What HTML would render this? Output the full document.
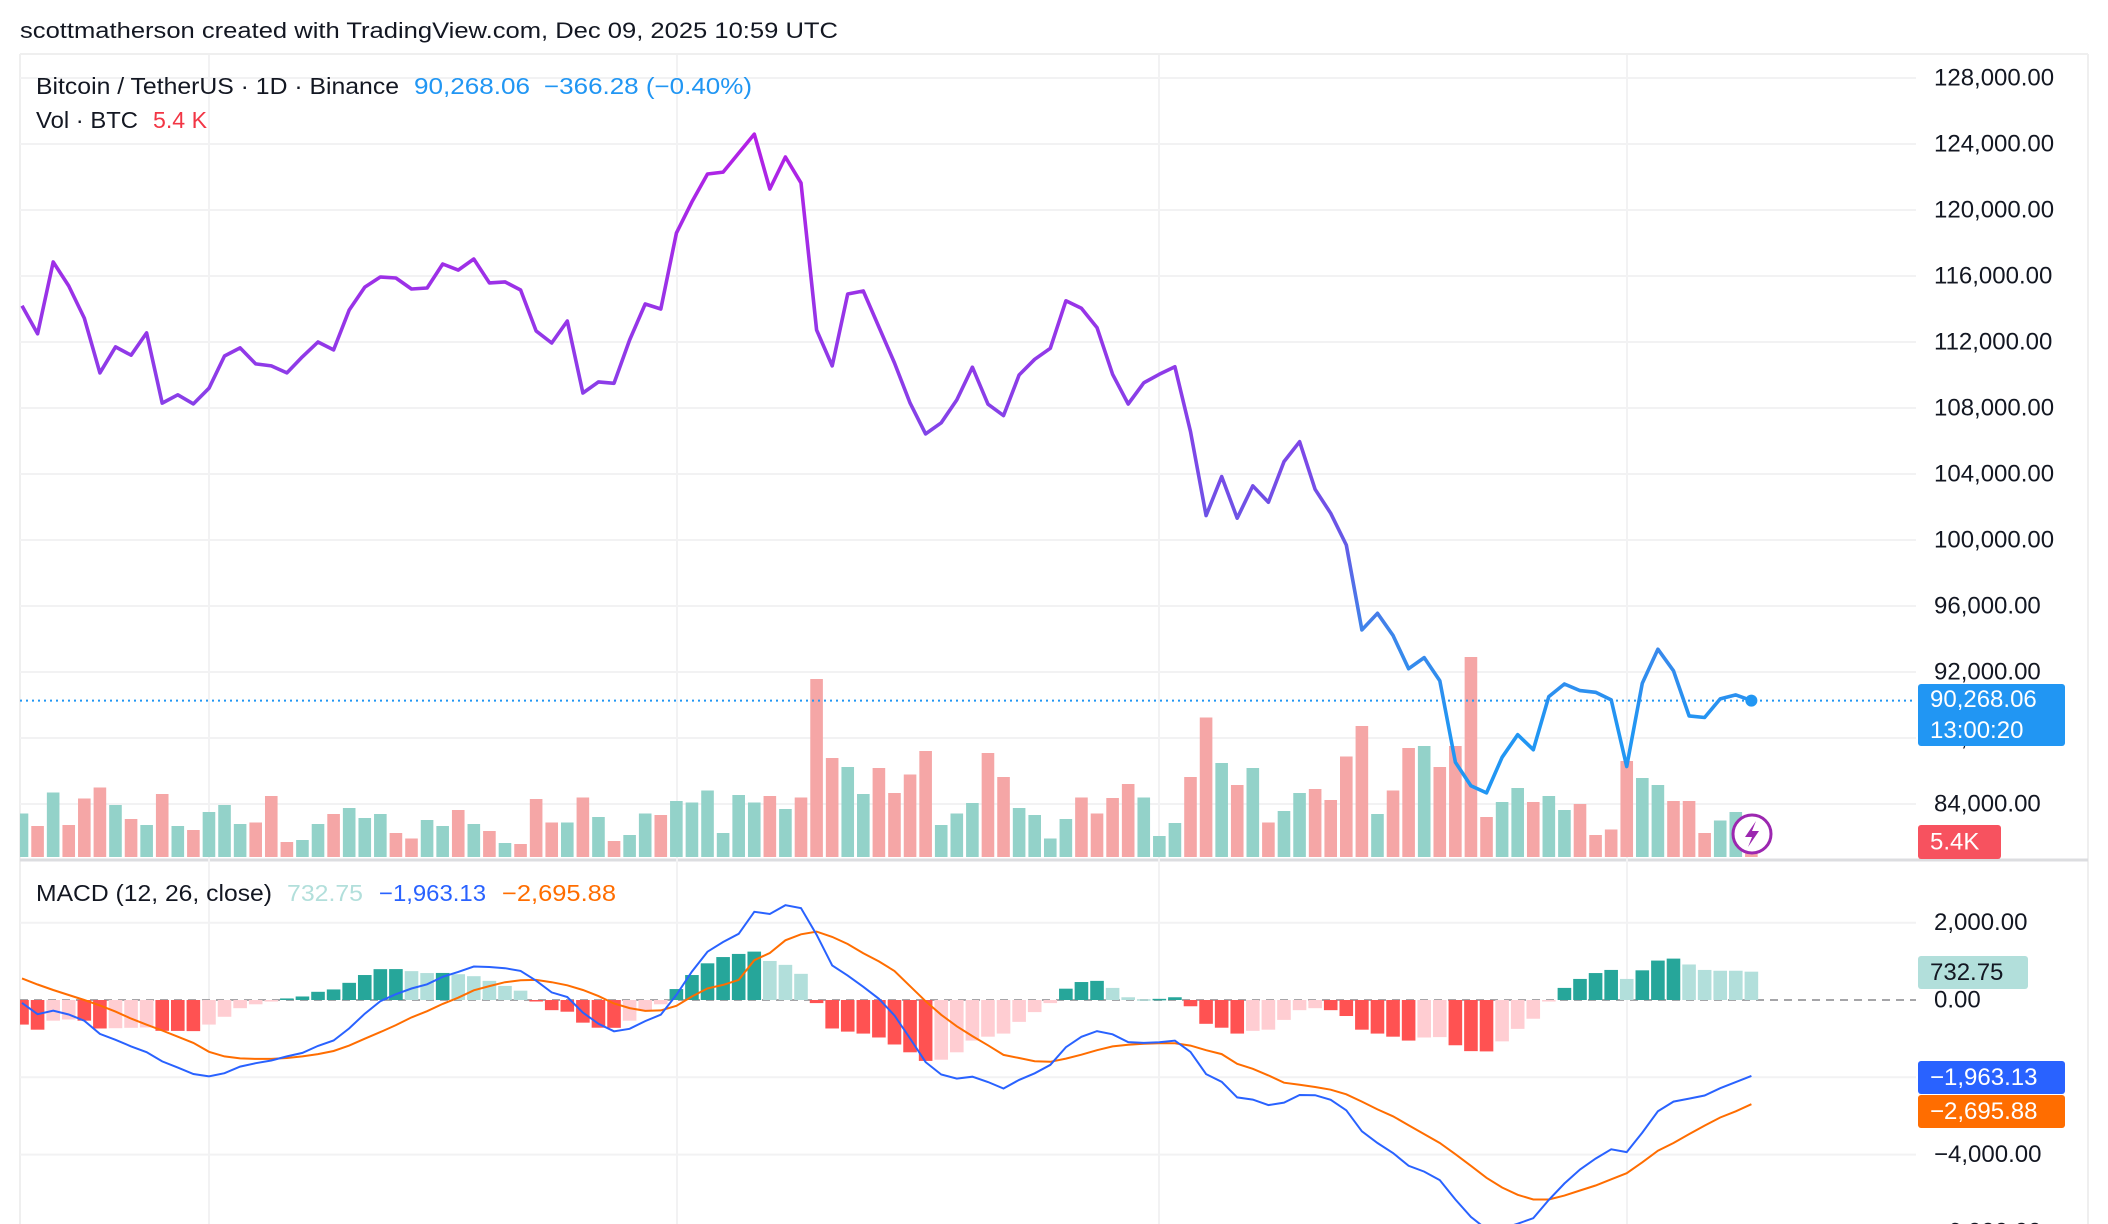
<!DOCTYPE html>
<html><head><meta charset="utf-8"><style>
html,body{margin:0;padding:0;background:#fff;}
svg{display:block;font-family:"Liberation Sans",sans-serif;}
</style></head><body>
<svg id="chart" xmlns="http://www.w3.org/2000/svg" width="2108" height="1224" viewBox="0 0 2108 1224">
<defs>
<linearGradient id="pg" gradientUnits="userSpaceOnUse" x1="0" y1="130" x2="0" y2="795">
<stop offset="0" stop-color="#b41fe6"/><stop offset="0.4" stop-color="#8a3ee8"/><stop offset="0.6" stop-color="#6a55e6"/><stop offset="0.76" stop-color="#3d86ea"/><stop offset="0.9" stop-color="#2196f3"/></linearGradient>
<clipPath id="macdClip"><rect x="20" y="862" width="1896" height="362"/></clipPath>
<clipPath id="priceClip"><rect x="20" y="55" width="1896" height="803"/></clipPath>
</defs>
<rect width="2108" height="1224" fill="#fff"/>
<text x="20" y="38" font-size="22" fill="#131722" textLength="818" lengthAdjust="spacingAndGlyphs">scottmatherson created with TradingView.com, Dec 09, 2025 10:59 UTC</text>
<g id="grid"></g>
<g id="vol" clip-path="url(#priceClip)"></g>
<g id="price" clip-path="url(#priceClip)"></g>
<g id="macd" clip-path="url(#macdClip)"></g>
<g id="axis"></g>
<g font-size="23">
<text x="36" y="94" fill="#131722" textLength="363" lengthAdjust="spacingAndGlyphs">Bitcoin / TetherUS · 1D · Binance</text>
<text x="414" y="94" fill="#2196f3" textLength="116" lengthAdjust="spacingAndGlyphs">90,268.06</text>
<text x="544" y="94" fill="#2196f3" textLength="208" lengthAdjust="spacingAndGlyphs">−366.28 (−0.40%)</text>
<text x="36" y="128" fill="#131722" textLength="102" lengthAdjust="spacingAndGlyphs">Vol · BTC</text>
<text x="153" y="128" fill="#f23645" textLength="54" lengthAdjust="spacingAndGlyphs">5.4 K</text>
<text x="36" y="901" fill="#131722" textLength="236" lengthAdjust="spacingAndGlyphs">MACD (12, 26, close)</text>
<text x="287" y="901" fill="#b2dfdb" textLength="76" lengthAdjust="spacingAndGlyphs">732.75</text>
<text x="379" y="901" fill="#2962ff" textLength="107" lengthAdjust="spacingAndGlyphs">−1,963.13</text>
<text x="502" y="901" fill="#ff6d00" textLength="114" lengthAdjust="spacingAndGlyphs">−2,695.88</text>
</g>
</svg>
<script>
const closes=[114200,112500,116850,115400,113450,110130,111700,111200,112550,108300,108800,108250,109200,111150,111640,110670,110550,110130,111100,112000,111520,113940,115330,115940,115880,115210,115270,116730,116360,117030,115580,115640,115150,112670,111940,113270,108910,109580,109500,112120,114300,114000,118600,120490,122180,122300,123450,124600,121270,123210,121640,112730,110550,114910,115090,112910,110730,108300,106430,107100,108490,110470,108230,107540,110000,110950,111620,114500,114040,112870,110040,108240,109530,110040,110500,106570,101480,103840,101320,103280,102290,104750,105960,103070,101620,99700,94550,95560,94220,92200,92870,91470,86530,85110,84670,86830,88200,87290,90510,91270,90870,90770,90310,86270,91320,93380,92070,89340,89240,90370,90610,90268];
const volumes=[8.7,6.2,12.9,6.4,11.7,13.9,10.4,7.6,6.4,12.6,6.2,5.4,9.0,10.4,6.6,6.9,12.2,3.0,3.4,6.6,8.6,9.8,7.8,8.6,4.8,3.7,7.4,6.2,9.4,6.6,5.2,2.8,2.6,11.6,6.9,6.9,11.9,8.0,3.2,4.4,8.7,8.4,11.2,10.9,13.3,4.8,12.4,10.9,12.2,9.6,11.9,35.6,19.8,18.0,12.6,17.8,12.8,16.5,21.2,6.4,8.7,10.8,20.8,16.0,9.8,8.4,3.7,7.6,11.9,8.7,11.8,14.6,11.9,4.2,6.8,16.0,27.9,18.8,14.4,17.8,6.9,9.2,12.8,13.6,11.4,20.1,26.2,8.6,13.3,21.8,22.2,18.0,22.2,40.0,8.0,11.0,13.8,11.0,12.2,9.4,10.6,4.4,5.5,19.2,15.8,14.4,11.2,11.2,4.8,7.3,9.0,5.4];
const hist=[-636,-768,-535,-505,-535,-737,-730,-720,-710,-798,-800,-805,-636,-434,-212,-111,-40,40,91,212,273,444,646,798,800,747,697,700,667,616,495,364,242,-20,-263,-303,-586,-717,-720,-535,-263,-111,283,646,949,1111,1192,1252,1010,909,677,-80,-737,-818,-869,-970,-1151,-1353,-1576,-1545,-1353,-1050,-949,-869,-566,-313,-80,293,465,495,313,71,20,30,71,-162,-616,-717,-869,-798,-768,-515,-263,-212,-263,-414,-768,-869,-949,-1050,-970,-960,-1171,-1323,-1330,-1070,-747,-485,-10,313,545,697,778,545,768,1020,1071,919,778,757,757,733];
const signal=[560,400,260,130,0,-140,-300,-480,-640,-790,-950,-1110,-1340,-1460,-1510,-1525,-1525,-1500,-1460,-1400,-1320,-1180,-1000,-830,-650,-450,-290,-100,60,250,360,460,510,520,460,380,260,100,-90,-210,-283,-270,-150,90,300,390,520,1030,1216,1545,1700,1770,1633,1450,1210,1000,750,358,-30,-382,-680,-935,-1172,-1420,-1500,-1584,-1600,-1515,-1416,-1300,-1200,-1160,-1130,-1121,-1121,-1180,-1300,-1400,-1650,-1780,-1950,-2140,-2195,-2250,-2320,-2440,-2630,-2830,-3010,-3240,-3470,-3700,-3990,-4290,-4600,-4850,-5040,-5161,-5161,-5060,-4930,-4800,-4640,-4480,-4200,-3900,-3700,-3470,-3250,-3040,-2880,-2696];
const priceTicks=[128000,124000,120000,116000,112000,108000,104000,100000,96000,92000,88000,84000];
const macdTicks=[2000,0,-2000,-4000,-6000];
const NS="http://www.w3.org/2000/svg";
const X0=22,STEP=15.58,PL=20,PR=1916;
function xs(i){return X0+i*STEP;}
function yp(p){return 78+(128000-p)/4000*66;}
function ym(v){return 1000-v/2000*77.3;}
function yv(v){return 857-v*5;}
function mk(tag,attrs,parent){const e=document.createElementNS(NS,tag);for(const k in attrs)e.setAttribute(k,attrs[k]);parent.appendChild(e);return e;}
function fmt(v){const s=Math.abs(v).toLocaleString('en-US',{minimumFractionDigits:2,maximumFractionDigits:2});return (v<0?'−':'')+s;}
const grid=document.getElementById('grid'),vol=document.getElementById('vol'),price=document.getElementById('price'),macd=document.getElementById('macd'),axis=document.getElementById('axis');
let f=mk('line',{x1:PL,y1:54,x2:2088,y2:54,stroke:'#efefef','stroke-width':2},grid);

f=mk('line',{x1:PL,y1:54,x2:PL,y2:1224,stroke:'#efefef','stroke-width':2},grid);

f=mk('line',{x1:2088,y1:54,x2:2088,y2:1224,stroke:'#efefef','stroke-width':2},grid);

f=mk('line',{x1:PL,y1:860,x2:2088,y2:860,stroke:'#dcdde0','stroke-width':3},grid);

[209,677,1159,1627].forEach(x=>{const l=mk('line',{x1:x,y1:55,x2:x,y2:1224,stroke:'#f2f2f3','stroke-width':2},grid);

});
priceTicks.forEach(t=>{const l=mk('line',{x1:PL,y1:yp(t),x2:PR,y2:yp(t),stroke:'#f2f2f3','stroke-width':2},grid);


const tx=mk('text',{x:1934,y:yp(t),'dominant-baseline':'central','font-size':24,fill:'#131722'},axis);tx.textContent=fmt(t);

});
macdTicks.forEach(t=>{if(t!==0){const l=mk('line',{x1:PL,y1:ym(t),x2:PR,y2:ym(t),stroke:'#f2f2f3','stroke-width':2},grid);

}
if(t!==-2000){const tx=mk('text',{x:1934,y:ym(t),'dominant-baseline':'central','font-size':24,fill:'#131722'},axis);tx.textContent=fmt(t);

}});
volumes.forEach((v,i)=>{const up=i===0||closes[i]>=closes[i-1];
const r=mk('rect',{x:xs(i)-6.3,y:yv(v),width:12.6,height:857-yv(v),fill:up?'#93d2c9':'#f5a6a6'},vol);

});
let dl=mk('line',{x1:PL,y1:yp(closes[closes.length-1]),x2:PR,y2:yp(closes[closes.length-1]),stroke:'#2196f3','stroke-width':2,'stroke-dasharray':'2 4'},price);

let d=closes.map((p,i)=>(i?'L':'M')+xs(i).toFixed(1)+' '+yp(p).toFixed(1)).join(' ');
let pl=mk('path',{d:d,fill:'none',stroke:'url(#pg)','stroke-width':3.6,'stroke-linejoin':'round'},price);

const li=closes.length-1;
let dot=mk('circle',{cx:xs(li),cy:yp(closes[li]),r:6,fill:'#2196f3'},price);

let z=mk('line',{x1:PL,y1:ym(0),x2:PR,y2:ym(0),stroke:'#a5a5a8','stroke-width':2,'stroke-dasharray':'8 6'},macd);

hist.forEach((h,i)=>{const prev=i?hist[i-1]:h;let c;
if(h>=0)c=(h>prev)?'#26a69a':'#b2dfdb';else c=(h<prev||i===0)?'#ff5252':'#ffcdd2';
const y0=ym(0),y1=ym(h);
const r=mk('rect',{x:xs(i)-6.8,y:Math.min(y0,y1),width:13.6,height:Math.max(1.5,Math.abs(y1-y0)),fill:c},macd);

});
let sd=signal.map((s,i)=>(i?'L':'M')+xs(i).toFixed(1)+' '+ym(s).toFixed(1)).join(' ');
let sl=mk('path',{d:sd,fill:'none',stroke:'#ff6d00','stroke-width':2},macd);

let md=signal.map((s,i)=>(i?'L':'M')+xs(i).toFixed(1)+' '+ym(s+hist[i]).toFixed(1)).join(' ');
let ml=mk('path',{d:md,fill:'none',stroke:'#2962ff','stroke-width':2},macd);

function label(name,x,y,w,h,bg,lines,fg){const g=mk('g',{},axis);


mk('rect',{x:x,y:y,width:w,height:h,rx:3,fill:bg},g);
lines.forEach((t,k)=>{const tx=mk('text',{x:x+12,y:y+(h/lines.length)*(k+0.5),'dominant-baseline':'central','font-size':24,fill:fg},g);tx.textContent=t;});}
label('last-price-label',1918,684,147,62,'#2196f3',['90,268.06','13:00:20'],'#fff');
label('volume-label',1918,825,83,34,'#f7525f',['5.4K'],'#fff');
label('macd-hist-label',1918,956,110,33,'#b2dfdb',['732.75'],'#131722');
label('macd-line-label',1918,1061,147,33,'#2962ff',['−1,963.13'],'#fff');
label('signal-line-label',1918,1095,147,33,'#ff6d00',['−2,695.88'],'#fff');
const ig=mk('g',{},document.getElementById('chart'));


mk('circle',{cx:1752,cy:834,r:19,fill:'#fff',stroke:'#9c27b0','stroke-width':3},ig);
mk('path',{d:'M1756 821 L1745 837 L1752 837 L1748 847 L1759 831 L1752 831 Z',fill:'#9c27b0'},ig);
</script>
</body></html>
